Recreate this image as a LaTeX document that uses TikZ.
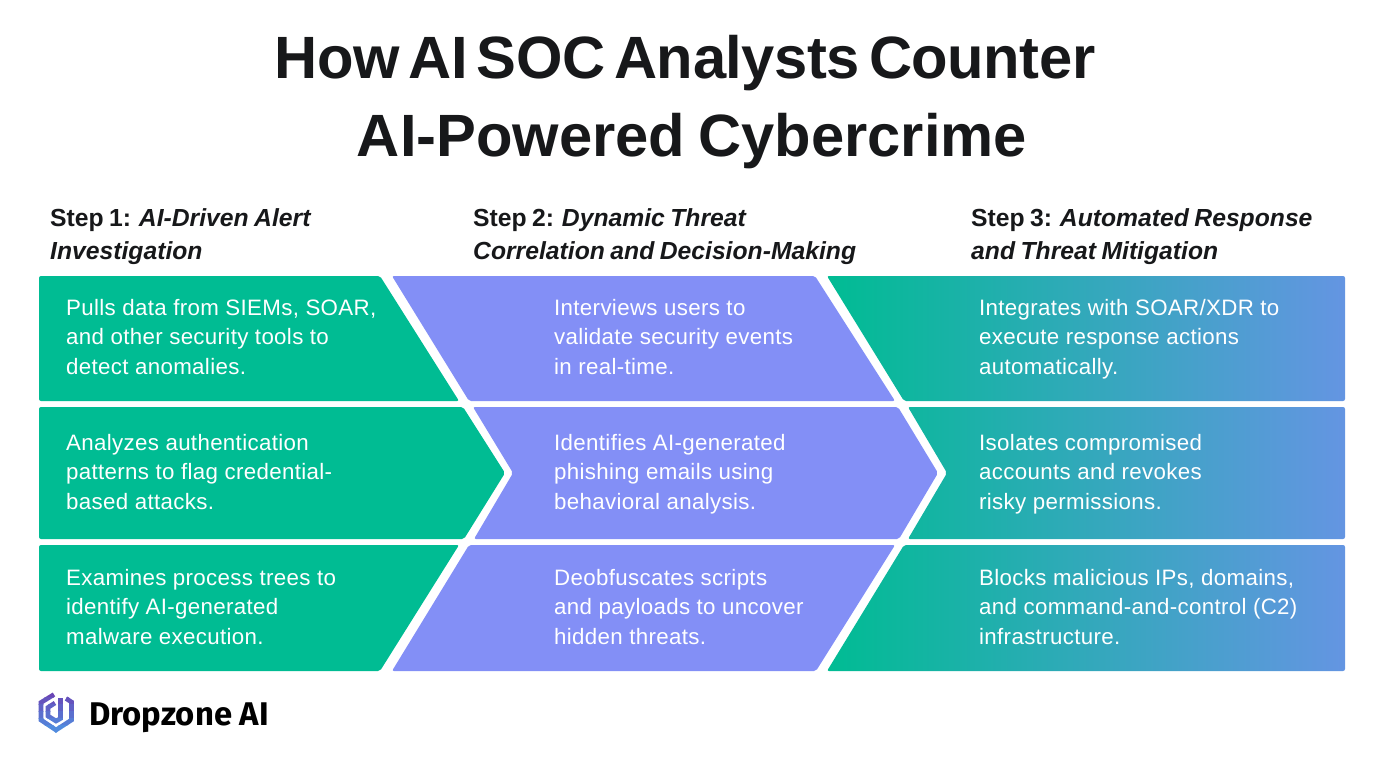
\documentclass[tikz,border=0pt]{standalone}
\usepackage{fontspec}
\setmainfont{Liberation Sans}
\newfontfamily\logofont{Fira Sans}
\newfontfamily\titlefont[WordSpace=0.55]{Liberation Sans}
\newfontfamily\stepfont[WordSpace=0.8]{Liberation Sans}
\definecolor{dropgreen}{HTML}{00BC93}
\definecolor{dropviolet}{HTML}{838FF6}
\definecolor{dropblue}{HTML}{6495E2}
\definecolor{droptitle}{HTML}{17181A}
\definecolor{logoviolet}{HTML}{6A45B5}
\definecolor{logoblue}{HTML}{4E93E3}
\tikzset{
  greenrow/.style={fill=dropgreen, rounded corners=2pt},
  violetrow/.style={fill=dropviolet, rounded corners=2pt},
  fadeclip/.style={rounded corners=2pt},
  titleline/.style={font=\titlefont\fontsize{59.7}{60}\selectfont\bfseries, text=droptitle, inner sep=0pt, anchor=base},
  stephead/.style={font=\stepfont\fontsize{24.7}{32.5}\selectfont\bfseries, text=droptitle, align=left, inner sep=0pt, anchor=base west},
  rowtext/.style={font=\fontsize{22.3}{29.5}\selectfont\addfontfeatures{LetterSpace=1.5}, text=white, align=left, inner sep=0pt, anchor=base west},
  logostroke/.style={line width=4.6pt, line join=miter}
}
\begin{document}
\begin{tikzpicture}[x=1pt,y=-1pt]
\useasboundingbox (0,0) rectangle (1383,770);
\node[titleline] (titleone) at (685,79) {\addfontfeatures{LetterSpace=-0.7}How AI SOC Analysts Counter};
\node[titleline] (titletwo) at (692,157) {AI-Powered Cybercrime};
\node[stephead] (stepone) at (50,259) {Step 1: \itshape AI-Driven Alert\\\itshape Investigation};
\node[stephead] (steptwo) at (473,259) {Step 2: \itshape Dynamic Threat\\\itshape Correlation and Decision-Making};
\node[stephead] (stepthree) at (971,259) {Step 3: \itshape Automated Response\\\itshape and Threat Mitigation};
\fill[greenrow] (39,276) -- (380,276) -- (459,401) -- (39,401) -- cycle;
\fill[greenrow] (39,407) -- (463,407) -- (505,473) -- (464,539) -- (39,539) -- cycle;
\fill[greenrow] (39,545) -- (459,545) -- (380,671) -- (39,671) -- cycle;
\fill[violetrow] (392,276) -- (815,276) -- (895,401) -- (469,401) -- cycle;
\fill[violetrow] (473,407) -- (898,407) -- (938,473) -- (899,539) -- (474,539) -- (513,473) -- cycle;
\fill[violetrow] (469,545) -- (895,545) -- (816,671) -- (392,671) -- cycle;
\begin{scope}
\clip[fadeclip] (827,276) -- (1345,276) -- (1345,401) -- (904,401) -- cycle;
\shade[left color=dropgreen, right color=dropblue] (827,270) rectangle (1345,675);
\end{scope}
\begin{scope}
\clip[fadeclip] (908,407) -- (1345,407) -- (1345,539) -- (908,539) -- (947,473) -- cycle;
\shade[left color=dropgreen, right color=dropblue] (827,270) rectangle (1345,675);
\end{scope}
\begin{scope}
\clip[fadeclip] (904,545) -- (1345,545) -- (1345,671) -- (827,671) -- cycle;
\shade[left color=dropgreen, right color=dropblue] (827,270) rectangle (1345,675);
\end{scope}
\node[rowtext] (pulls) at (66,374) {Pulls data from SIEMs, SOAR,\\and other security tools to\\detect anomalies.};
\node[rowtext] (analyzes) at (66,509) {Analyzes authentication\\patterns to flag credential-\\based attacks.};
\node[rowtext] (examines) at (66,644) {Examines process trees to\\identify AI-generated\\malware execution.};
\node[rowtext] (interviews) at (554,374) {Interviews users to\\validate security events\\in real-time.};
\node[rowtext] (identifies) at (554,509) {Identifies AI-generated\\phishing emails using\\behavioral analysis.};
\node[rowtext] (deobfuscates) at (554,644) {Deobfuscates scripts\\and payloads to uncover\\hidden threats.};
\node[rowtext] (integrates) at (979,374) {Integrates with SOAR/XDR to\\execute response actions\\automatically.};
\node[rowtext] (isolates) at (979,509) {Isolates compromised\\accounts and revokes\\risky permissions.};
\node[rowtext] (blocks) at (979,644) {Blocks malicious IPs, domains,\\and command-and-control (C2)\\infrastructure.};
\foreach \bandtop/\bandtone in {690/0,697/18,704/36,711/54,718/72,725/90,732/100} {
  \begin{scope}
  \clip (35,\bandtop) rectangle (78,\bandtop+7);
  \draw[logostroke, color=logoblue!\bandtone!logoviolet] (54,694.5) -- (41,702.5) -- (41,720) -- (56,730) -- (71.5,720) -- (71.5,702) -- (66,698.5);
  \draw[logostroke, color=logoblue!\bandtone!logoviolet] (60.5,698) -- (60.5,718.5) -- (56,721) -- (48,716) -- (48,707.5) -- (55,703);
  \end{scope}
}
\node[font=\logofont\fontsize{32.8}{33}\selectfont\bfseries, text=black, inner sep=0pt, anchor=base west] (logoname) at (89,725) {Dropzone AI};
\end{tikzpicture}
\end{document}
